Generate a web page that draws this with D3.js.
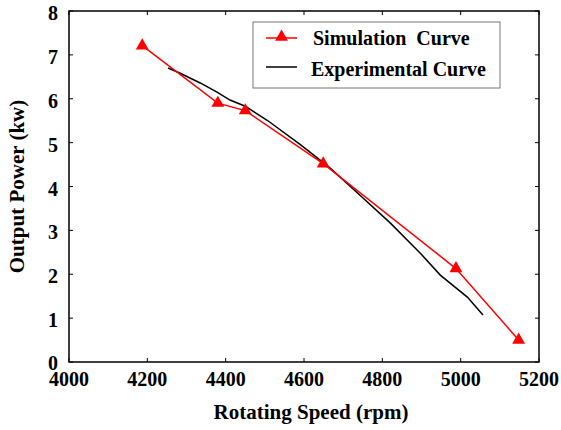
<!DOCTYPE html>
<html>
<head>
<meta charset="utf-8">
<script src="https://cdn.jsdelivr.net/npm/d3@7"></script>
<style>
body { margin: 0; background: #fff; }
text { font-family: "Liberation Serif", "Times New Roman", serif; font-weight: bold; }
</style>
</head>
<body>
<script>
var width = 561, height = 430;
var margin = {left: 69, top: 11, right: 22, bottom: 68};

// simulation curve (rpm, kW)
var simRpm = [4187, 4380, 4450, 4649, 4988, 5148];
var simPower = [7.21, 5.9, 5.73, 4.52, 2.13, 0.5];

// experimental curve (rpm, kW)
var expRpm = [4253, 4284, 4335, 4378, 4411, 4450, 4506, 4590, 4667, 4743, 4820, 4897, 4948, 5017, 5057];
var expPower = [6.70, 6.58, 6.36, 6.15, 5.97, 5.83, 5.51, 4.96, 4.42, 3.80, 3.17, 2.48, 1.98, 1.48, 1.07];

var xTicks = [4000, 4200, 4400, 4600, 4800, 5000, 5200];
var yTicks = [0, 1, 2, 3, 4, 5, 6, 7, 8];

var svg = d3.select("body").append("svg").attr("width", width).attr("height", height);

var x = d3.scaleLinear().domain([4000, 5200]).range([margin.left, width - margin.right]);
var y = d3.scaleLinear().domain([0, 8]).range([height - margin.bottom, margin.top]);

// frame
svg.append("rect")
	.attr("x", x(4000)).attr("y", y(8))
	.attr("width", x(5200) - x(4000)).attr("height", y(0) - y(8))
	.attr("fill", "none").attr("stroke", "#000").attr("stroke-width", 1.5);

// inward ticks on all four sides
var tk = 4;
svg.selectAll(".xtb").data(xTicks).enter().append("line")
	.attr("x1", function(d){ return x(d); }).attr("x2", function(d){ return x(d); })
	.attr("y1", y(0)).attr("y2", y(0) - tk).attr("stroke", "#000");
svg.selectAll(".xtt").data(xTicks).enter().append("line")
	.attr("x1", function(d){ return x(d); }).attr("x2", function(d){ return x(d); })
	.attr("y1", y(8)).attr("y2", y(8) + tk).attr("stroke", "#000");
svg.selectAll(".ytl").data(yTicks).enter().append("line")
	.attr("y1", function(d){ return y(d); }).attr("y2", function(d){ return y(d); })
	.attr("x1", x(4000)).attr("x2", x(4000) + tk).attr("stroke", "#000");
svg.selectAll(".ytr").data(yTicks).enter().append("line")
	.attr("y1", function(d){ return y(d); }).attr("y2", function(d){ return y(d); })
	.attr("x1", x(5200)).attr("x2", x(5200) - tk).attr("stroke", "#000");

// tick labels
svg.selectAll(".xl").data(xTicks).enter().append("text")
	.attr("x", function(d){ return x(d); }).attr("y", y(0) + 24)
	.attr("text-anchor", "middle").attr("font-size", 20)
	.text(function(d){ return d; });
svg.selectAll(".yl").data(yTicks).enter().append("text")
	.attr("x", x(4000) - 11).attr("y", function(d){ return y(d) + (d === 0 ? 8 : 9); })
	.attr("text-anchor", "end").attr("font-size", 20)
	.text(function(d){ return d; });

// axis titles
svg.append("text").attr("x", (x(4000) + x(5200)) / 2 + 7).attr("y", 419)
	.attr("text-anchor", "middle").attr("font-size", 21).text("Rotating Speed (rpm)");
svg.append("text").attr("transform", "translate(24," + ((y(0) + y(8)) / 2) + ") rotate(-90)")
	.attr("text-anchor", "middle").attr("font-size", 21).text("Output Power (kw)");

// experimental curve
var expData = expRpm.map(function(d, i){ return [d, expPower[i]]; });
svg.append("path").datum(expData)
	.attr("d", d3.line().x(function(d){ return x(d[0]); }).y(function(d){ return y(d[1]); }))
	.attr("fill", "none").attr("stroke", "#000").attr("stroke-width", 1.5);

// simulation curve
var simData = simRpm.map(function(d, i){ return [d, simPower[i]]; });
svg.append("path").datum(simData)
	.attr("d", d3.line().x(function(d){ return x(d[0]); }).y(function(d){ return y(d[1]); }))
	.attr("fill", "none").attr("stroke", "#ff0000").attr("stroke-width", 1.5);

var tri = d3.symbol().type(d3.symbolTriangle).size(72);
svg.selectAll(".sim").data(simData).enter().append("path")
	.attr("transform", function(d){ return "translate(" + x(d[0]) + "," + y(d[1]) + ")"; })
	.attr("d", tri).attr("fill", "#ff0000");

// legend
var lg = svg.append("g");
lg.append("rect").attr("x", 253).attr("y", 22).attr("width", 247).attr("height", 66)
	.attr("fill", "#fff").attr("stroke", "#777").attr("stroke-width", 1);
lg.append("line").attr("x1", 266).attr("x2", 297).attr("y1", 38).attr("y2", 38)
	.attr("stroke", "#ff0000").attr("stroke-width", 1.5);
lg.append("path").attr("transform", "translate(281.5,37)").attr("d", tri).attr("fill", "#ff0000");
lg.append("text").attr("x", 313).attr("y", 45).attr("font-size", 20)
	.style("white-space", "pre").text("Simulation  Curve");
lg.append("line").attr("x1", 266).attr("x2", 297).attr("y1", 67).attr("y2", 67)
	.attr("stroke", "#000").attr("stroke-width", 1.5);
lg.append("text").attr("x", 311).attr("y", 76).attr("font-size", 20).text("Experimental Curve");
</script>
</body>
</html>
